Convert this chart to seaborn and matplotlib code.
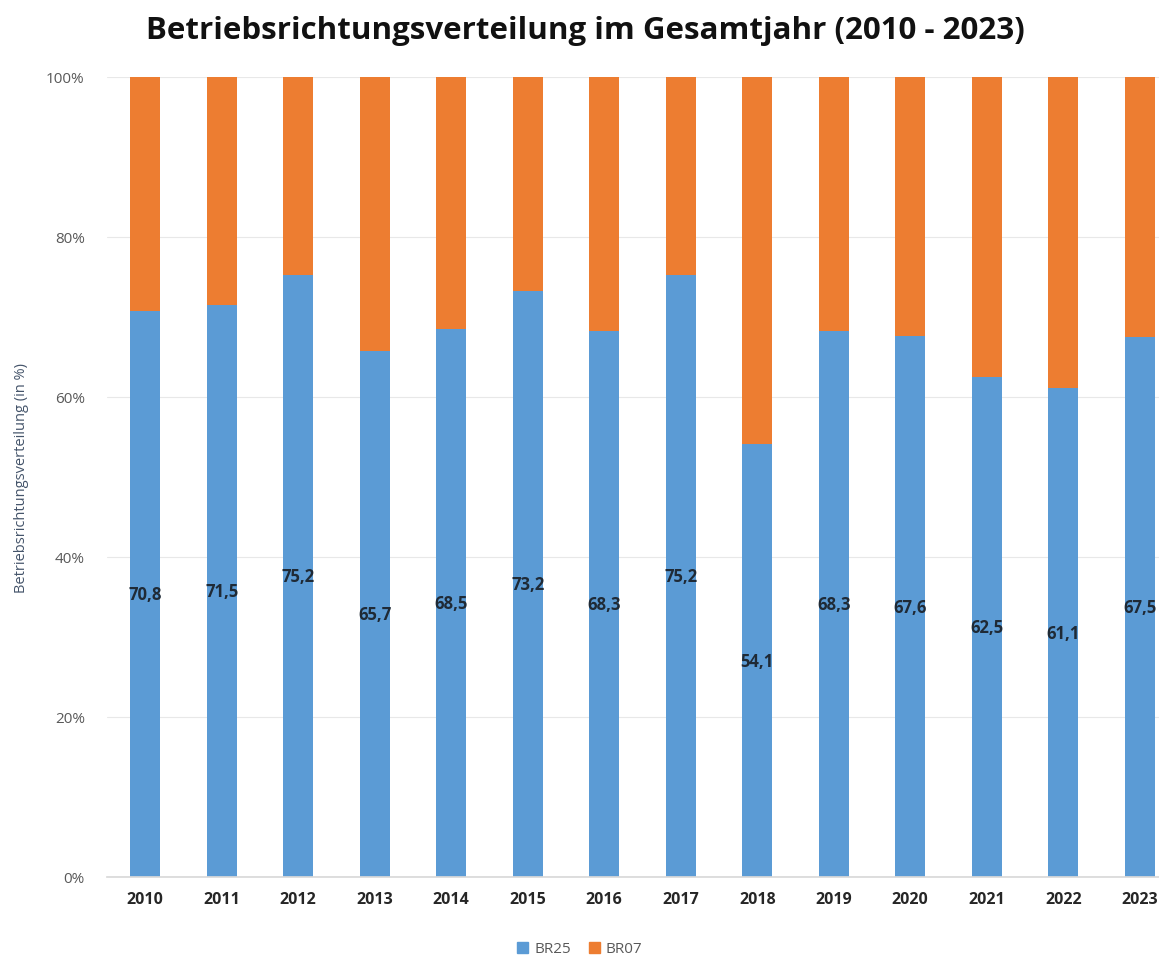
import matplotlib
matplotlib.use("Agg")
import matplotlib.pyplot as plt
import seaborn as sns
import pandas as pd
from matplotlib.patches import Patch

years = ["2010", "2011", "2012", "2013", "2014", "2015", "2016",
         "2017", "2018", "2019", "2020", "2021", "2022", "2023"]
br25 = [70.8, 71.5, 75.2, 65.7, 68.5, 73.2, 68.3, 75.2, 54.1, 68.3, 67.6, 62.5, 61.1, 67.5]
br07 = [29.2, 28.5, 24.8, 34.3, 31.5, 26.8, 31.7, 24.8, 45.9, 31.7, 32.4, 37.5, 38.9, 32.5]
yticks = [0, 20, 40, 60, 80, 100]

sns.set_theme(style="white")
plt.rcParams['font.family'] = ['Open Sans', 'DejaVu Sans']

df = pd.DataFrame({"Jahr": years, "BR25": br25, "BR07": br07})

fig = plt.figure(figsize=(11.59, 9.62), dpi=100)
ax = fig.add_axes([107/1159, (962-878)/962, 1071/1159, 800/962])

blue = "#5b9bd5"
orange = "#ed7d31"
sns.barplot(data=df, x="Jahr", y="BR25", color=blue, width=0.39, ax=ax,
            saturation=1, linewidth=0)
sns.barplot(data=df, x="Jahr", y="BR07", color=orange, width=0.39, ax=ax,
            saturation=1, linewidth=0, bottom=df["BR25"])

for i, v in enumerate(br25):
    ax.text(i, v / 2, f"{v:.1f}".replace(".", ","), ha="center", va="center",
            fontsize=12, fontweight="bold", color="#1f2a36")

ax.set_xlim(-0.5, 13.5)
ax.set_ylim(0, 100)
ax.set_yticks(yticks)
ax.set_yticklabels([f"{t}%" for t in yticks], color="#595959", fontsize=11)
ax.tick_params(axis="y", length=0, pad=16)
ax.tick_params(axis="x", length=0, pad=10, labelsize=11.5, labelcolor="#262626")
for lab in ax.get_xticklabels():
    lab.set_fontweight("bold")
ax.yaxis.grid(True, color="#e8e8e8", linewidth=0.8)
ax.set_axisbelow(True)
for s in ["top", "right", "left"]:
    ax.spines[s].set_visible(False)
ax.spines["bottom"].set_color("#d9d9d9")
ax.set_xlabel("")
ax.set_ylabel("Betriebsrichtungsverteilung (in %)", color="#44546a", fontsize=10.5, labelpad=12)

fig.text(585/1159, 1 - 31/962, "Betriebsrichtungsverteilung im Gesamtjahr (2010 - 2023)",
         ha="center", va="center", fontsize=22.5, fontweight="bold", color="#111111")

handles = [Patch(color=blue, label="BR25"), Patch(color=orange, label="BR07")]
fig.legend(handles=handles, loc="center", bbox_to_anchor=(580/1159, 1 - 950/962), ncol=2,
           frameon=False, fontsize=11, labelcolor="#595959", handlelength=0.7,
           handleheight=0.7, handletextpad=0.4, columnspacing=1.2)

fig.savefig("out.png", dpi=100)
